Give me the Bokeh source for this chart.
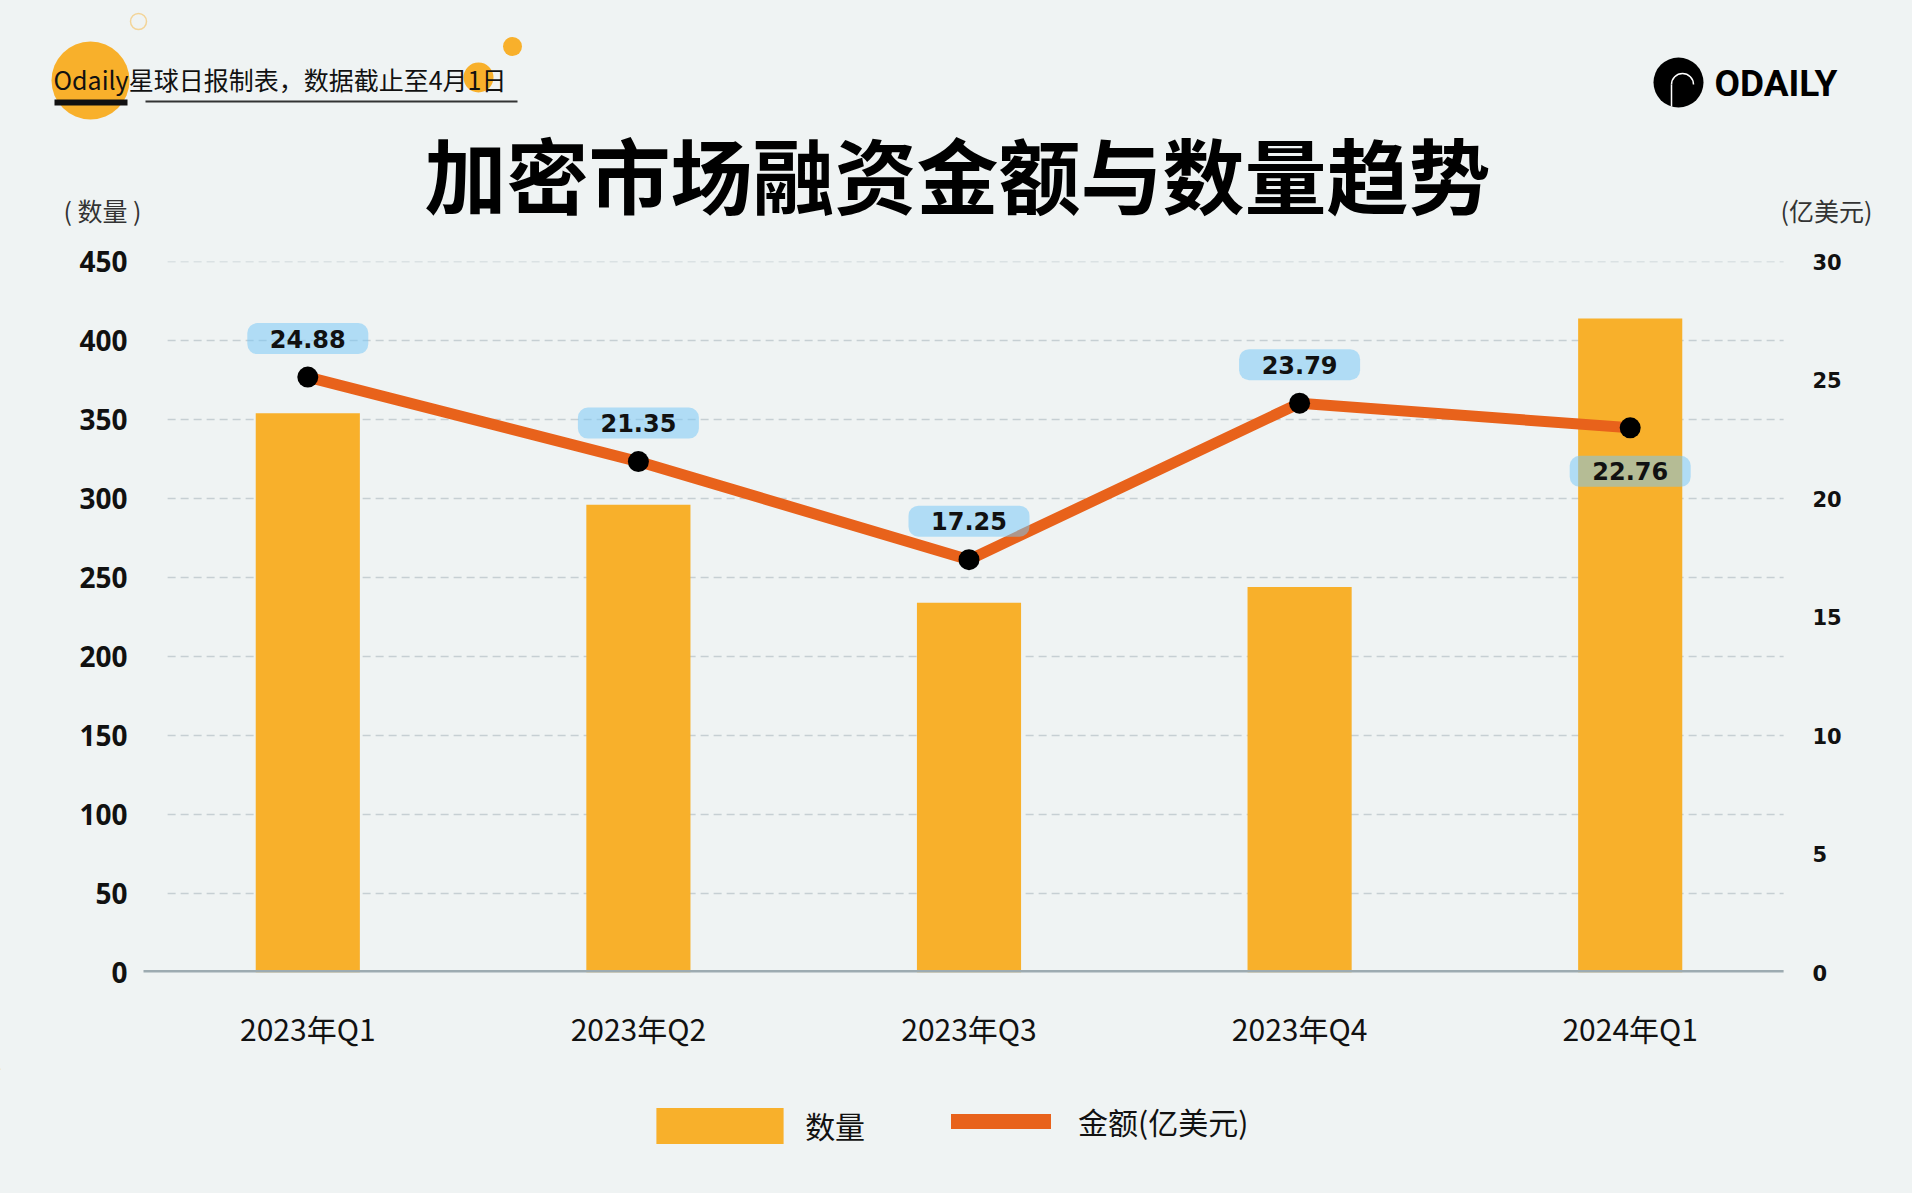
from bokeh.plotting import figure
from bokeh.models import (Range1d, LinearAxis, FixedTicker, Legend, LegendItem,
                          ColumnDataSource)
from bokeh.layouts import column
from bokeh.core.properties import value
from bokeh.embed import file_html
from bokeh.resources import INLINE

# ---------------- data ----------------
categories = ["2023年Q1", "2023年Q2", "2023年Q3", "2023年Q4", "2024年Q1"]
counts = [354, 296, 234, 244, 414]            # 数量 (left axis)
amounts = [24.88, 21.35, 17.25, 23.79, 22.76]  # 金额(亿美元) (right axis)
label_side = ["above", "above", "above", "above", "below"]
left_ticks = [0, 50, 100, 150, 200, 250, 300, 350, 400, 450]
right_ticks = [0, 5, 10, 15, 20, 25, 30]

title_text = "加密市场融资金额与数量趋势"
header_text = "Odaily星球日报制表，数据截止至4月1日"
left_unit = "( 数量 )"
right_unit = "(亿美元)"
legend_count = "数量"
legend_amount = "金额(亿美元)"

# ---------------- style ----------------
BG = "#eff3f3"
BAR = "#f8b02b"
LINE = "#e8621b"
GRID = "#c6cfd3"
BASE = "#9dabb1"
CJK = "Noto Sans CJK SC"

W = 1904
HEAD_H = 233
MAIN_H = 835
FOOT_H = 1185 - HEAD_H - MAIN_H
FOOT_TOP = HEAD_H + MAIN_H


def no_align(fig):
    if "frame_align" in fig.properties():
        fig.frame_align = False


def plain(fig):
    fig.background_fill_color = BG
    fig.border_fill_color = BG
    fig.outline_line_color = None
    fig.grid.visible = False


# ---------------- header figure ----------------
h = figure(width=W, height=HEAD_H, x_range=Range1d(0, W), y_range=Range1d(HEAD_H, 0),
           output_backend="svg", toolbar_location=None, x_axis_location=None,
           y_axis_location=None, min_border=0)
plain(h)
no_align(h)

h.circle(x=[90], y=[80], radius=39, fill_color=BAR, line_color=None)
h.circle(x=[478], y=[77], radius=15, fill_color=BAR, line_color=None)
h.circle(x=[512], y=[46], radius=9.5, fill_color=BAR, line_color=None)
h.circle(x=[138], y=[21], radius=8, fill_color=None, line_color=BAR, line_alpha=0.45, line_width=1.5)
h.text(x=[53], y=[78], text=[header_text], text_font=value(CJK), text_font_size="25px",
       text_align="left", text_baseline="middle", text_color="#111111")
h.segment(x0=[54], y0=[102], x1=[127], y1=[102], line_width=6, line_color="#111111")
h.segment(x0=[145], y0=[101], x1=[517], y1=[101], line_width=2, line_color="#333333")

h.text(x=[957], y=[172], text=[title_text], text_font=value(CJK), text_font_style="bold",
       text_font_size="82px", text_align="center", text_baseline="middle", text_color="#000000")

h.text(x=[102], y=[209], text=[left_unit], text_font=value(CJK), text_font_size="25px",
       text_align="center", text_baseline="middle", text_color="#333333")
h.text(x=[1826], y=[209], text=[right_unit], text_font=value(CJK), text_font_size="25px",
       text_align="center", text_baseline="middle", text_color="#333333")

# ODAILY logo
h.circle(x=[1678], y=[82], radius=25, fill_color="#000000", line_color=None)
h.segment(x0=[1671], y0=[84], x1=[1671], y1=[106], line_color="#ffffff", line_width=1.5)
h.arc(x=[1682], y=[84], radius=11, start_angle=0, end_angle=3.1416, direction="anticlock",
      line_color="#ffffff", line_width=1.5)
h.text(x=[1714], y=[83], text=["ODAILY"], text_font=value("Roboto"),
       text_font_style="bold", text_font_size="37px", text_align="left",
       text_baseline="middle", text_color="#000000")

# ---------------- main chart ----------------
idx = list(range(len(categories)))
AMT_TOP = 29.71
frame_h = 711.0
ppu = frame_h / AMT_TOP
label_y = [a + 38.5 / ppu if s == "above" else a - 43.5 / ppu for a, s in zip(amounts, label_side)]

src = ColumnDataSource(dict(x=idx, cat=categories, count=counts, amt=amounts,
                            label=[f"{a:.2f}" for a in amounts], label_y=label_y))

p = figure(width=W, height=MAIN_H, x_range=Range1d(-0.5, 4.5), y_range=Range1d(0, 450),
           output_backend="svg", toolbar_location=None,
           min_border_top=28, min_border_left=142, min_border_right=W - 1795,
           min_border_bottom=MAIN_H - 28 - 711)
p.background_fill_color = BG
p.border_fill_color = BG
p.outline_line_color = None
p.xgrid.visible = False
p.ygrid.visible = False
no_align(p)
p.extra_y_ranges = {"amt": Range1d(0, AMT_TOP), "amt_axis": Range1d(0, 30)}

ly = p.yaxis[0]
ly.ticker = FixedTicker(ticks=left_ticks)
ly.major_label_text_font = "Noto Sans"
ly.major_label_text_font_style = "bold"
ly.major_label_text_font_size = "28px"
ly.major_label_text_color = "#111111"
ly.major_label_standoff = 15

ry = LinearAxis(y_range_name="amt_axis", ticker=FixedTicker(ticks=right_ticks))
ry.major_label_text_font = "DejaVu Sans"
ry.major_label_text_font_style = "bold"
ry.major_label_text_font_size = "21px"
ry.major_label_text_color = "#111111"
ry.major_label_standoff = 17
p.add_layout(ry, "right")

xa = p.xaxis[0]
xa.ticker = FixedTicker(ticks=idx)
xa.major_label_overrides = {i: c for i, c in zip(idx, categories)}
xa.major_label_text_font = CJK
xa.major_label_text_font_size = "30px"
xa.major_label_text_color = "#111111"
xa.major_label_standoff = 33

for ax in [ly, ry, xa]:
    ax.axis_line_color = None
    ax.major_tick_line_color = None
    ax.minor_tick_line_color = None
    ax.major_tick_out = 0
    ax.major_tick_in = 0

# dashed grid lines
gy = left_ticks[1:]
p.segment(x0=[-0.424] * len(gy), x1=[4.464] * len(gy), y0=gy, y1=gy,
          line_color=GRID, line_width=1.5, line_dash="8 5")

bars = p.vbar(x="x", top="count", width=0.315, source=src, fill_color=BAR, line_color=None)

p.segment(x0=[-0.497], x1=[4.464], y0=[0], y1=[0], line_color=BASE, line_width=5)

line = p.line(x="x", y="amt", source=src, y_range_name="amt", line_color=LINE,
              line_width=11, line_join="round")
p.scatter(x="x", y="amt", source=src, y_range_name="amt", size=21,
          fill_color="#000000", line_color=None)

p.rect(x="x", y="label_y", source=src, y_range_name="amt", width=121, height=31,
       width_units="screen", height_units="screen", fill_color="#76c7f7", fill_alpha=0.52,
       line_color=None, border_radius=10)
p.text(x="x", y="label_y", text="label", source=src, y_range_name="amt",
       text_font=value("DejaVu Sans"), text_font_style="bold", text_font_size="24px",
       text_align="center", text_baseline="middle", text_color="#111111")

# ---------------- footer with legend ----------------
f = figure(width=W, height=FOOT_H, x_range=Range1d(0, W),
           y_range=Range1d(FOOT_TOP + FOOT_H, FOOT_TOP),
           output_backend="svg", toolbar_location=None, x_axis_location=None,
           y_axis_location=None, min_border=0)
plain(f)
no_align(f)

# legend swatches: renderers kept off-screen, only their legend glyphs show
leg_bar = f.vbar(x=[-500], top=[FOOT_TOP], bottom=[FOOT_TOP + 1], width=1,
                 fill_color=BAR, line_color=None)
leg_line = f.line(x=[-600, -500], y=[FOOT_TOP, FOOT_TOP], line_color=LINE,
                  line_width=15, line_cap="round")

common = dict(orientation="horizontal", padding=0, margin=0, border_line_color=None,
              background_fill_alpha=0, label_text_font=CJK,
              label_text_font_size="30px", label_text_color="#111111")
center_y = 1125
# bar swatch: Bokeh insets area glyphs by 10% on each side
g1w, g1h = 127 / 0.8, 36 / 0.8
leg1 = Legend(items=[LegendItem(label=value(legend_count), renderers=[leg_bar])],
              location=(656 - 0.1 * g1w, (FOOT_TOP + FOOT_H) - (center_y + g1h / 2)),
              glyph_width=int(round(g1w)), glyph_height=int(round(g1h)), label_height=int(round(g1h)),
              label_standoff=6, **common)
g2w, g2h = 100, 36
leg2 = Legend(items=[LegendItem(label=value(legend_amount), renderers=[leg_line])],
              location=(951, (FOOT_TOP + FOOT_H) - (center_y + g2h / 2)),
              glyph_width=g2w, glyph_height=g2h, label_height=g2h,
              label_standoff=27, **common)
f.add_layout(leg1)
f.add_layout(leg2)

layout = column(h, p, f, spacing=0)
html = file_html(layout, INLINE)
css = ("<style>html,body{margin:0 !important;padding:0 !important;"
       "background-color:%s !important;}</style></head>" % BG)
html = html.replace("</head>", css, 1)
open("out.html", "w").write(html)
